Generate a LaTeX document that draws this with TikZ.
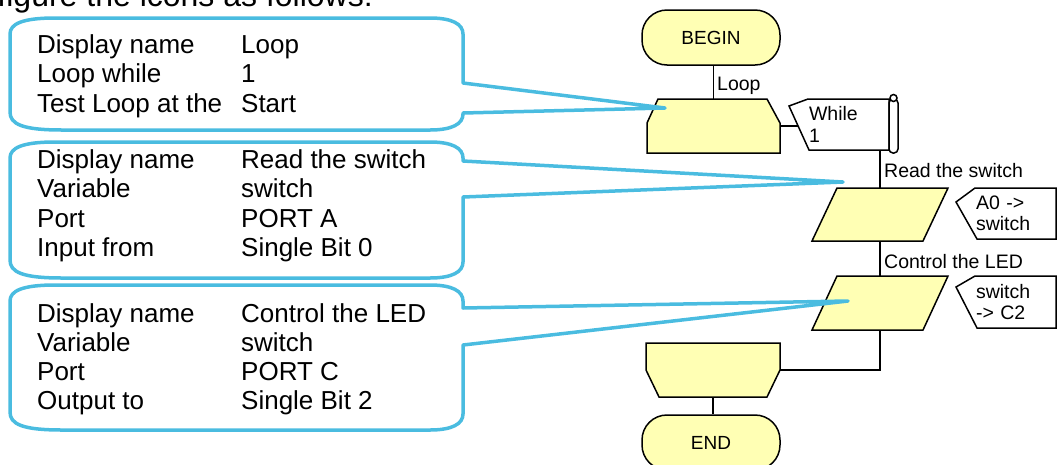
\documentclass[tikz,border=0pt]{standalone}
\usepackage{fontspec}
\setmainfont{Liberation Sans}
\usetikzlibrary{calc}
\definecolor{flowyellow}{RGB}{255,255,180}
\definecolor{calloutblue}{RGB}{74,188,224}

\begin{document}
\begin{tikzpicture}[x=1pt,y=-1pt,
  flow/.style={draw=black,line width=1.5pt,fill=flowyellow},
  wire/.style={draw=black,line width=1.5pt},
  term/.style={flow,rounded corners=25pt,minimum width=138pt,minimum height=55pt,inner sep=0pt,font=\fontsize{19}{21}\selectfont},
  box/.style={inner sep=0pt,outer sep=0pt},
  note/.style={inner xsep=20pt,inner ysep=0pt,outer sep=0pt,align=left,text width=60pt,minimum height=51pt,font=\fontsize{19.5}{21.5}\selectfont},
  small/.style={inner sep=0pt,anchor=base west,font=\fontsize{19.5}{21}\selectfont},
  cfgline/.style={draw=calloutblue,line width=3.5pt,line join=round},
  cfgtext/.style={inner sep=0pt,anchor=base west,font=\fontsize{26}{29.5}\selectfont}]
  \useasboundingbox (0,0) rectangle (1057,464);
  \clip (0,0) rectangle (1057,464);

  \node[anchor=base east,inner sep=0pt,font=\fontsize{32}{36}\selectfont] (heading) at (373,6) {Configure the icons as follows:};

  % flowchart
  \node[term] (begin) at (711,37.5) {BEGIN};
  \node[box,minimum width=133pt,minimum height=54pt] (loopstart) at (713.5,126) {};
  \node[box,minimum width=136pt,minimum height=53pt] (readsw) at (880,214.5) {};
  \node[box,minimum width=136pt,minimum height=54pt] (ctrlled) at (880,303) {};
  \node[box,minimum width=134pt,minimum height=54pt] (loopend) at (713,370) {};
  \node[term] (end) at (711,442.5) {END};

  \draw[wire] (loopstart.north |- begin.south) -- (loopstart.north);
  \draw[wire] (readsw.south) -- (ctrlled.north);
  \draw[wire] (ctrlled.south) |- (loopend.east);
  \draw[wire] (loopend.south) -- (loopend.south |- end.north);

  \draw[flow] ([xshift=11pt]loopstart.north west) -- ([xshift=-13pt]loopstart.north east)
    -- ([yshift=-24pt]loopstart.north east) -- (loopstart.south east)
    -- (loopstart.south west) -- ([yshift=-24pt]loopstart.north west) -- cycle;
  \draw[flow] (loopend.north west) -- (loopend.north east)
    -- ([yshift=-27pt]loopend.north east) -- ([xshift=-13pt]loopend.south east)
    -- ([xshift=13pt]loopend.south west) -- ([yshift=-27pt]loopend.north west) -- cycle;
  \foreach \n in {readsw,ctrlled}
    \draw[flow] ([xshift=25pt]\n.north west) -- (\n.north east)
      -- ([xshift=-25pt]\n.south east) -- (\n.south west) -- cycle;

  % property notes
  \node[note] (whilenote) at (839,124.5) {While\\1};
  \node[note] (a0note) at (1006,213.5) {A0 ->\\switch};
  \node[note,minimum height=52pt] (c2note) at (1006,302) {switch\\-> C2};
  \draw[wire] ([xshift=19pt]whilenote.north west) -- (whilenote.north east) -- (whilenote.south east)
    -- ([xshift=20pt]whilenote.south west) -- ([yshift=-7pt]whilenote.north west) -- cycle;
  \draw[wire,fill=white,rounded corners=4pt] (whilenote.north east) rectangle ([xshift=9pt,yshift=-3pt]whilenote.south east);
  \draw[wire,fill=white] ([xshift=4.5pt,yshift=1pt]whilenote.north east) circle (3.5pt);
  \draw[wire] ([xshift=19pt]a0note.north west) -- (a0note.north east) -- (a0note.south east)
    -- ([xshift=21pt]a0note.south west) -- ([yshift=-14pt]a0note.north west) -- cycle;
  \draw[wire] ([xshift=19pt]c2note.north west) -- (c2note.north east) -- (c2note.south east)
    -- ([xshift=21pt]c2note.south west) -- ([yshift=-11pt]c2note.north west) -- cycle;

  \coordinate (whilein) at ([xshift=9pt]whilenote.west);
  \draw[wire] (loopstart.east) -- (loopstart.east -| whilein);
  \draw[wire] (readsw.north |- whilenote.south) -- (readsw.north);

  \node[small] (looplbl) at (717,90) {Loop};
  \node[small] (readlbl) at (884,177) {Read the switch};
  \node[small] (ctrllbl) at (884,268) {Control the LED};

  % callouts
  \coordinate (looptip) at ($(loopstart.north west)+(18,9)$);
  \coordinate (readtip) at ($(readsw.north west)+(31,-6)$);
  \coordinate (ctrltip) at ($(ctrlled.north west)+(36,25)$);
  \foreach \yt/\yb/\yu/\yl/\tp in {18/130/83/113/looptip, 142/278/161/197/readtip, 285/430/308/345/ctrltip}
    \draw[cfgline] (463,\yu) -- (\tp) -- (463,\yl) -- (463,\yb-16)
      .. controls (463,\yb-6) and (452,\yb) .. (430,\yb) -- (62,\yb)
      .. controls (22,\yb) and (10,\yb-6) .. (10,\yb-18) -- (10,\yt+16)
      .. controls (10,\yt+6) and (22,\yt) .. (55,\yt) -- (430,\yt)
      .. controls (452,\yt) and (463,\yt+6) .. (463,\yt+16) -- cycle;

  \node[cfgtext] (cfgloop) at (37,53) {\begin{tabular}[t]{@{}p{204pt}@{}l@{}}
    Display name & Loop\\ Loop while & 1\\ Test Loop at the & Start\end{tabular}};
  \node[cfgtext] (cfgread) at (37,168) {\begin{tabular}[t]{@{}p{204pt}@{}l@{}}
    Display name & Read the switch\\ Variable & switch\\ Port & PORT A\\ Input from & Single Bit 0\end{tabular}};
  \node[cfgtext,font=\fontsize{26}{29}\selectfont] (cfgctrl) at (37,322) {\begin{tabular}[t]{@{}p{204pt}@{}l@{}}
    Display name & Control the LED\\ Variable & switch\\ Port & PORT C\\ Output to & Single Bit 2\end{tabular}};
\end{tikzpicture}
\end{document}
